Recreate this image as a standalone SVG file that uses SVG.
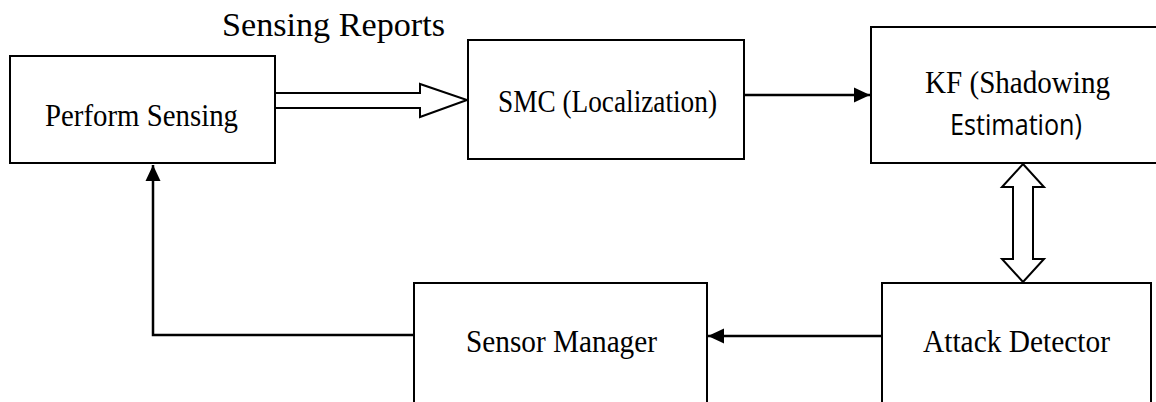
<svg xmlns="http://www.w3.org/2000/svg" width="1156" height="402" viewBox="0 0 1156 402">
  <style>
    .box { fill: #ffffff; stroke: #000000; stroke-width: 2; }
    .lbl { font-family: "Liberation Serif", "Times New Roman", serif; font-size: 31px; fill: #000000; }
    .title { font-size: 34px; }
    .sans { font-family: "Open Sans", "Liberation Sans", sans-serif; font-size: 29px; fill: #000000; }
    .wire { fill: none; stroke: #000000; stroke-width: 2.5; }
    .hollow { fill: #ffffff; stroke: #000000; stroke-width: 2; stroke-linejoin: miter; }
  </style>
  <defs>
    <marker id="head" markerUnits="userSpaceOnUse" markerWidth="18" markerHeight="18" viewBox="0 0 18 18" refX="16" refY="9" orient="auto">
      <path d="M0,1.5 L16,9 L0,16.5 Z" fill="#000000"/>
    </marker>
  </defs>
  <rect width="1156" height="402" fill="#ffffff"/>

  <!-- connectors -->
  <g id="connectors">
    <!-- Sensing Reports: hollow block arrow -->
    <path class="hollow" d="M275,93 L420,93 L420,84 L467,100 L420,117 L420,108 L275,108"/>
    <text class="lbl title" x="222" y="36" textLength="223" lengthAdjust="spacingAndGlyphs">Sensing Reports</text>
    <!-- SMC to KF -->
    <line class="wire" x1="745" y1="95" x2="870" y2="95" marker-end="url(#head)"/>
    <!-- KF <-> Attack Detector: hollow double arrow -->
    <path class="hollow" d="M1023,164 L1044,187 L1033,187 L1033,259 L1044,259 L1023,282 L1002,259 L1013,259 L1013,187 L1002,187 Z"/>
    <!-- Attack Detector to Sensor Manager -->
    <line class="wire" x1="882" y1="336" x2="708" y2="336" marker-end="url(#head)"/>
    <!-- Sensor Manager back to Perform Sensing -->
    <polyline class="wire" points="414,335 153,335 153,165" marker-end="url(#head)"/>
  </g>

  <g id="perform-sensing">
    <rect class="box" x="10" y="56" width="265" height="107"/>
    <text class="lbl" x="45" y="126" textLength="193" lengthAdjust="spacingAndGlyphs">Perform Sensing</text>
  </g>

  <g id="smc">
    <rect class="box" x="468" y="40" width="276" height="119"/>
    <text class="lbl" x="498" y="112" textLength="219" lengthAdjust="spacingAndGlyphs">SMC (Localization)</text>
  </g>

  <g id="kf">
    <rect class="box" x="871" y="27" width="290" height="136"/>
    <text class="lbl" x="925" y="93" textLength="185" lengthAdjust="spacingAndGlyphs">KF (Shadowing</text>
    <text class="sans" x="950" y="135" textLength="132" lengthAdjust="spacingAndGlyphs">Estimation)</text>
  </g>

  <g id="sensor-manager">
    <rect class="box" x="414" y="283" width="293" height="130"/>
    <text class="lbl" x="466" y="352" textLength="191" lengthAdjust="spacingAndGlyphs">Sensor Manager</text>
  </g>

  <g id="attack-detector">
    <rect class="box" x="882" y="283" width="269" height="130"/>
    <text class="lbl" x="923" y="352" textLength="187" lengthAdjust="spacingAndGlyphs">Attack Detector</text>
  </g>
</svg>
